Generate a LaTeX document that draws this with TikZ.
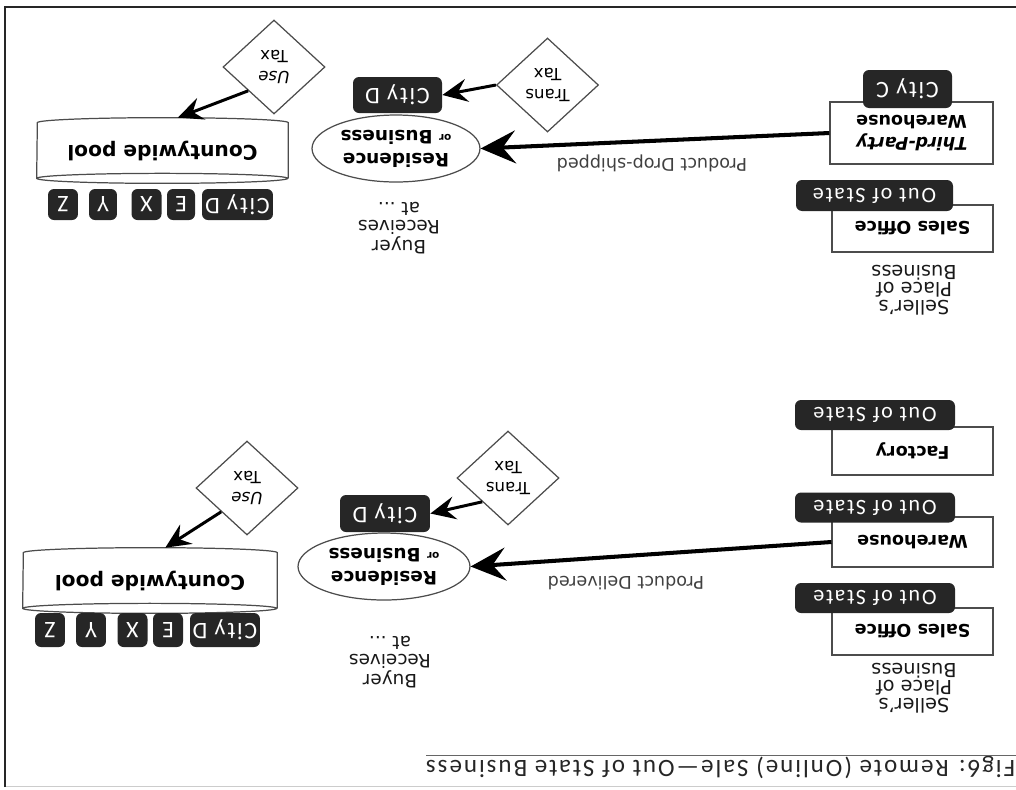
\documentclass[tikz,border=0pt]{standalone}
\usepackage{fontspec}
\setmainfont{DejaVu Sans}
\newfontfamily\tagfont[LetterSpace=8]{Carlito}
\usepackage{tikz}
\usetikzlibrary{shapes.geometric}
\usetikzlibrary{arrows.meta}
\usetikzlibrary{calc}

\tikzset{
  premises/.style={draw=black!70, line width=0.7pt, fill=white, minimum width=3.22cm, minimum height=0.96cm, inner sep=0pt, align=center, font=\fontsize{10}{12.5}\selectfont\bfseries},
  statetag/.style={fill=black!85, text=white, rounded corners=0.12cm, minimum width=3.2cm, minimum height=0.6cm, inner sep=0pt, font=\tagfont\fontsize{12.5}{12.5}\selectfont},
  citytag/.style={statetag, minimum width=0.6cm, minimum height=0.66cm, font=\tagfont\fontsize{13.5}{13.5}\selectfont},
  receiver/.style={ellipse, draw=black!70, line width=0.7pt, fill=white, minimum width=3.44cm, minimum height=1.34cm, inner sep=0pt, align=center, font=\fontsize{10.5}{13}\selectfont\bfseries},
  taxbox/.style={diamond, draw=black!70, line width=0.7pt, fill=white, minimum width=2.04cm, minimum height=1.88cm, inner sep=0pt, align=center, font=\fontsize{9.5}{12}\selectfont},
  poolbox/.style={minimum height=1.3cm, inner sep=0pt, font=\fontsize{11.5}{12}\selectfont\bfseries},
  rimline/.style={draw=black!70, line width=0.7pt},
  flow/.style={line width=2.3pt, -{Stealth[length=0.7cm, width=0.66cm, inset=0.26cm]}},
  taxflow/.style={line width=1.7pt, -{Stealth[length=0.5cm, width=0.46cm, inset=0.18cm]}},
  remark/.style={align=center, text=black!90, font=\fontsize{11}{10}\selectfont},
  flowlabel/.style={text=black!75, font=\fontsize{10}{12}\selectfont},
  titletext/.style={text=black!85, inner sep=0pt, font=\tagfont\fontsize{14.2}{15}\selectfont},
}

\newcommand\drawpool[2]{%
  \draw[rimline] ($(#1.north west)+(0,-5)$) -- ($(#1.south west)+(0,5)$)
    arc[start angle=180, end angle=360, x radius=#2, y radius=5]
    -- ($(#1.north east)+(0,-5)$)
    arc[start angle=0, end angle=180, x radius=#2, y radius=5]
    arc[start angle=180, end angle=360, x radius=#2, y radius=5];}

\begin{document}
\begin{tikzpicture}[x=0.02cm, y=0.02cm]
\useasboundingbox (0,0) rectangle (1016,-789);

% the scan is upside down
\begin{scope}[shift={(1016,-789)}, rotate=180, transform shape]

\draw [gray!40, line width=0.4pt] (0,-3) -- (1011,-3);
\draw [black!85, line width=1.6pt] (1011,-2) -- (1011,-783);
\draw [black!85, line width=1.4pt] (0,-782) -- (1012,-782);
\node [titletext, anchor=west] (title) at (0.5,-22) {Fig6: Remote (Online) Sale—Out of State Business};
\draw [black!60, line width=0.5pt] (0,-34) -- (590,-34);

% delivered from out of state
\node [remark] (sellerA) at (102,-101) {Seller’s\\Place of\\Business};
\node [premises, minimum height=0.94cm] (salesA) at (103.5,-157.5) {Sales Office};
\node [statetag] (oosA1) at (141,-191) {Out of State};
\node [premises, minimum height=1.0cm] (wareA) at (103.5,-247) {Warehouse};
\node [statetag] (oosA2) at (141,-281.5) {Out of State};
\node [premises] (factA) at (103.5,-338) {Factory};
\node [statetag] (oosA3) at (141,-374) {Out of State};

\node [remark, font=\fontsize{10.5}{10}\selectfont] (buyerA) at (626,-127) {Buyer\\Receives\\at ...};
\node [receiver] (resA) at (632,-222.5) {Residence\\\raisebox{0.45ex}{\fontsize{6}{6}\selectfont or} Business};
\node [citytag, minimum width=1.8cm, minimum height=0.74cm] (cityDA) at (631,-275.5) {City D};
\node [taxbox] (transA) at (508,-311) {Trans\\Tax};

\node [poolbox, minimum width=5.08cm] (poolA) at (866,-208.5) {};
\drawpool{poolA}{127}
\node [poolbox] at (poolA) {Countywide pool};
\node [citytag, minimum width=1.4cm, minimum height=0.68cm] (cityA1) at (791,-159) {City D};
\node [citytag, minimum height=0.68cm] (cityA2) at (848,-159) {E};
\node [citytag, minimum height=0.68cm] (cityA3) at (883.5,-159) {X};
\node [citytag, minimum height=0.68cm] (cityA4) at (925,-159) {Y};
\node [citytag, minimum height=0.68cm] (cityA5) at (966,-159) {Z};
\node [taxbox] (useA) at (769,-301) {\textit{Use}\\Tax};

\draw [flow] (wareA.east) -- (resA.west);
\node [flowlabel] (delivA) at (390,-206) {Product Delivered};
\draw [taxflow] (transA.north east) -- (cityDA.west);
\draw [taxflow] (useA.north east) -- (poolA.-115);

% drop-shipped by a third party
\node [remark] (sellerB) at (102,-499) {Seller’s\\Place of\\Business};
\node [premises, minimum height=0.94cm] (salesB) at (103.5,-560.5) {Sales Office};
\node [statetag, minimum width=3.14cm, minimum height=0.62cm] (oosB) at (141.5,-593.5) {Out of State};
\node [premises, minimum width=3.26cm, minimum height=1.24cm] (tpwB) at (104.5,-656) {\textit{Third-Party}\\Warehouse};
\node [citytag, minimum width=1.78cm, minimum height=0.76cm] (cityCB) at (108.5,-700) {City C};

\node [remark, font=\fontsize{10.5}{10}\selectfont] (buyerB) at (617,-561) {Buyer\\Receives\\at ...};
\node [receiver, minimum width=3.36cm] (resB) at (620,-640.5) {Residence\\\raisebox{0.45ex}{\fontsize{6}{6}\selectfont or} Business};
\node [citytag, minimum width=1.78cm, minimum height=0.72cm] (cityDB) at (618.5,-694) {City D};
\node [taxbox] (transB) at (468.5,-704) {Trans\\Tax};

\node [poolbox, minimum width=5.02cm] (poolB) at (853.5,-638.5) {};
\drawpool{poolB}{125.5}
\node [poolbox] at (poolB) {Countywide pool};
\node [citytag, minimum width=1.42cm, minimum height=0.62cm] (cityB1) at (778.5,-584.5) {City D};
\node [citytag, minimum width=0.56cm, minimum height=0.62cm] (cityB2) at (835,-584.5) {E};
\node [citytag, minimum height=0.62cm] (cityB3) at (869.5,-584.5) {X};
\node [citytag, minimum width=0.56cm, minimum height=0.62cm] (cityB4) at (913,-584.5) {Y};
\node [citytag, minimum height=0.62cm] (cityB5) at (953,-584.5) {Z};
\node [taxbox] (useB) at (742,-722) {\textit{Use}\\Tax};

\draw [flow] (tpwB.east) -- (resB.west);
\node [flowlabel] (dropB) at (364,-626) {Product Drop-shipped};
\draw [taxflow] (transB.east) -- (cityDB.west);
\draw [taxflow] (useB.north east) -- (poolB.-115);

\end{scope}
\end{tikzpicture}
\end{document}
